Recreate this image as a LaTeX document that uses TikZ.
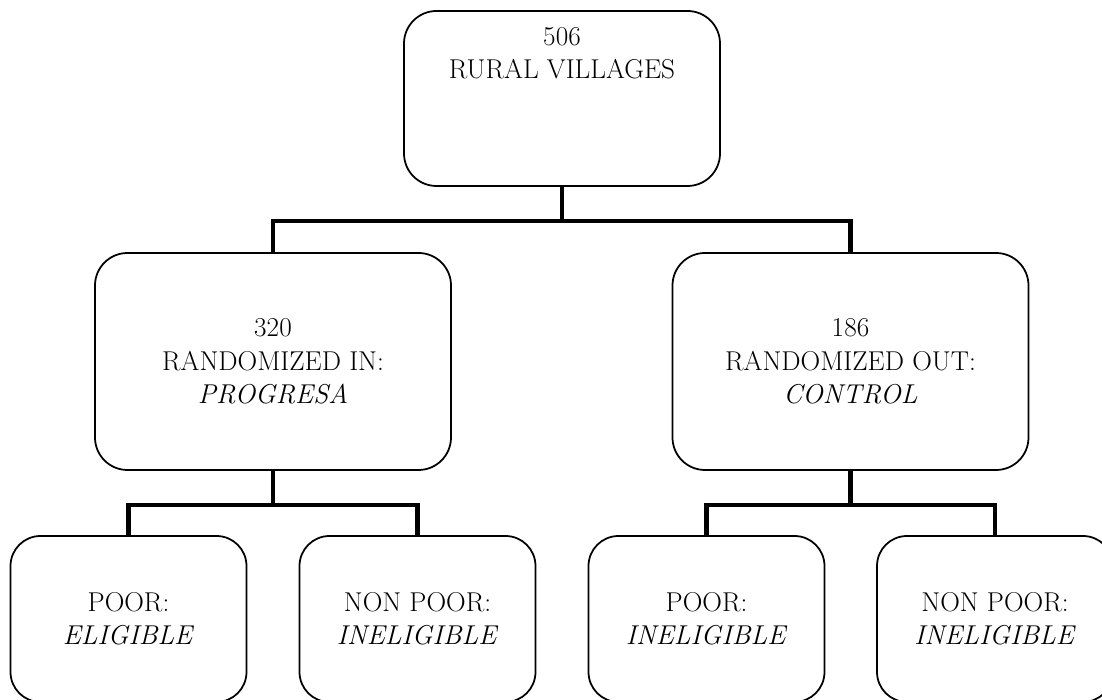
\documentclass[tikz,border=0pt]{standalone}
\usepackage{tikz}
\usetikzlibrary{positioning}

\tikzset{
  box/.style={draw, line width=1pt, rounded corners=0.65cm, align=center},
  topbox/.style={box, minimum width=6.32cm, minimum height=3.5cm},
  midbox/.style={box, minimum width=7.12cm, minimum height=4.34cm},
  lowbox/.style={box, rounded corners=0.6cm, minimum width=4.72cm, minimum height=3.32cm},
  link/.style={line width=2.3pt}
}

\begin{document}
\begin{tikzpicture}[font=\fontsize{15.5}{19}\selectfont]
      \useasboundingbox (0,0) rectangle (22.04,14);
      \clip (0,0) rectangle (22.04,14);
      \node[topbox] (villages) at (11.24,12.03) {};
      \node[below=0.22 of villages.north, align=center] (villagestext)
      {506\\RURAL VILLAGES};
      \node[midbox] (randin) at (5.46,6.77)
      {320\\RANDOMIZED IN:\\\textit{PROGRESA}};
      \node[midbox] (randout) at (17.01,6.77)
      {186\\RANDOMIZED OUT:\\\textit{CONTROL}};
      \node[lowbox] (inpoor) at (2.57,1.62) {POOR:\\\textit{ELIGIBLE}};
      \node[lowbox] (innonpoor) at (8.35,1.62) {NON POOR:\\\textit{INELIGIBLE}};
      \node[lowbox] (outpoor) at (14.13,1.62) {POOR:\\\textit{INELIGIBLE}};
      \node[lowbox] (outnonpoor) at (19.9,1.62) {NON POOR:\\\textit{INELIGIBLE}};
      % tree links
      \draw[link] (villages.south) -- ++(0,-0.68) coordinate (topsplit) -| (randin.north);
      \draw[link] (topsplit) -| (randout.north);
      \draw[link] (randin.south) -- ++(0,-0.68) coordinate (insplit) -| (inpoor.north);
      \draw[link] (insplit) -| (innonpoor.north);
      \draw[link] (randout.south) -- ++(0,-0.68) coordinate (outsplit) -| (outpoor.north);
      \draw[link] (outsplit) -| (outnonpoor.north);
    \end{tikzpicture}
\end{document}
